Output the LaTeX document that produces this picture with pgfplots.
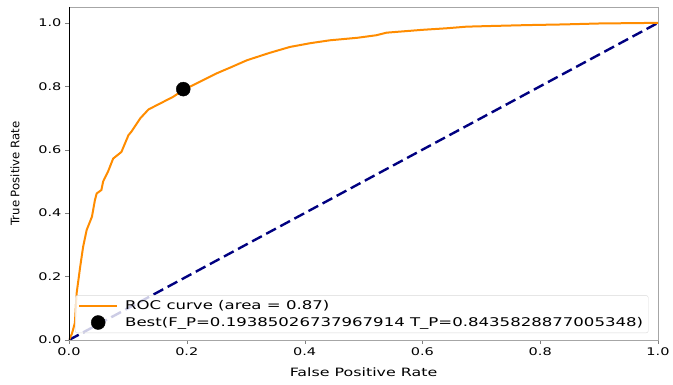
\documentclass[border=0pt]{standalone}
\usepackage{pgfplots}
\pgfplotsset{compat=1.18}
\usepackage{fontspec}
\setmainfont{DejaVu Sans}[FakeStretch=1.38]
\newfontfamily\yfont{DejaVu Sans}
\definecolor{roc}{RGB}{255,140,0}
\definecolor{navyc}{RGB}{0,0,128}
\pgfplotsset{
  lineleg/.style={legend image code/.code={\draw[##1] (0pt,0pt) -- (38pt,0pt);}},
  dotleg/.style={legend image code/.code={\draw[##1, fill opacity=1, draw opacity=1] plot coordinates {(19pt,0pt)};}},
}
\begin{document}
\begin{tikzpicture}
\begin{axis}[
  name=ax,
  scale only axis,
  width=589pt, height=333pt,
  xmin=0, xmax=1, ymin=0, ymax=1.05,
  xtick={0,0.2,0.4,0.6,0.8,1.0},
  ytick={0,0.2,0.4,0.6,0.8,1.0},
  tick pos=left,
  tick align=outside,
  major tick length=4pt,
  /pgf/number format/assume math mode=true,
  /pgf/number format/fixed, /pgf/number format/fixed zerofill, /pgf/number format/precision=1,
  tick label style={font=\fontsize{10.5}{12}\selectfont},
  axis line style={gray!70},
  xlabel={False Positive Rate},
  ylabel={\yfont True Positive Rate},
  xlabel style={font=\fontsize{11.5}{13}\selectfont, at={(axis description cs:0.5,-0.0961)}, anchor=center},
  ylabel style={font=\fontsize{11.7}{13}\selectfont, at={(axis description cs:-0.0917,0.5)}, anchor=center},
  legend style={at={(axis description cs:0.0102,0.021)}, anchor=south west,
    font=\fontsize{12}{14}\selectfont, fill=white, fill opacity=0.8, text opacity=1, draw opacity=1,
    draw=gray!30, rounded corners=2pt, row sep=2pt, inner sep=3pt,
    /tikz/every odd column/.append style={column sep=5pt}},
  legend cell align=left,
]
\addplot[navyc, line width=2.4pt, dash pattern=on 11pt off 5pt, forget plot] coordinates {(0,0) (1,1)};
\addplot[roc, line width=2pt, lineleg] coordinates {
(0,0) (0.005,0.02) (0.010,0.054) (0.013,0.148) (0.019,0.231) (0.024,0.294) (0.030,0.347)
(0.039,0.389) (0.044,0.441) (0.047,0.462) (0.055,0.473) (0.058,0.500) (0.066,0.530)
(0.075,0.572) (0.089,0.593) (0.101,0.646) (0.106,0.657) (0.121,0.699) (0.135,0.727)
(0.155,0.746) (0.177,0.767) (0.194,0.788) (0.222,0.814) (0.251,0.841) (0.275,0.860)
(0.302,0.882) (0.340,0.905) (0.375,0.924) (0.410,0.936) (0.443,0.945) (0.490,0.953)
(0.522,0.961) (0.539,0.969) (0.600,0.978) (0.642,0.983) (0.675,0.988) (0.715,0.990)
(0.780,0.993) (0.839,0.995) (0.900,0.998) (0.950,0.999) (1,1)};
\addlegendentry{ROC curve (area = 0.87)}
\addplot[only marks, mark=*, mark size=7pt, black, dotleg] coordinates {(0.194,0.791)};
\addlegendentry{Best(F\_P=0.19385026737967914 T\_P=0.8435828877005348)}
\draw[black, line width=0.9pt] (rel axis cs:0,1) -- (rel axis cs:0,0) -- (rel axis cs:1,0);
\end{axis}
\path (ax.south west) ++(-69pt,-45pt) rectangle ++(673pt,385pt);
\end{tikzpicture}
\end{document}
